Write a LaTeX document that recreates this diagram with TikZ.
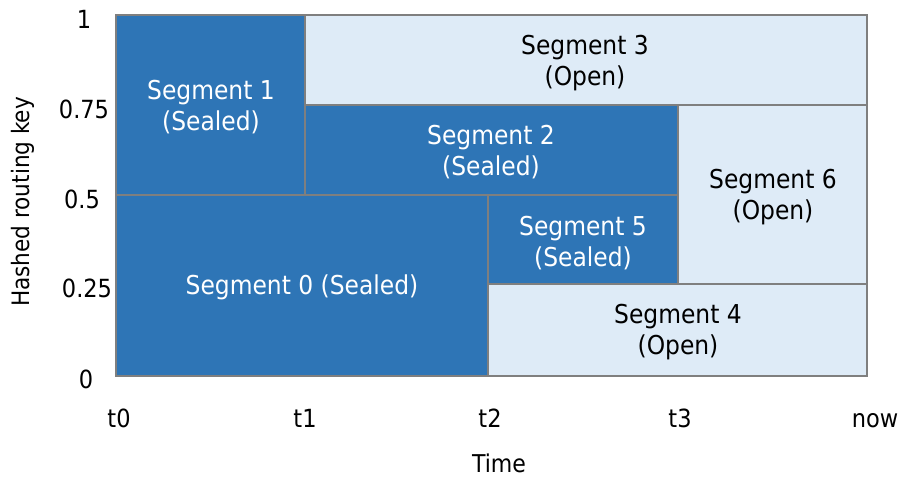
\documentclass[tikz,border=0pt]{standalone}
\usepackage{fontspec}
\setmainfont{DejaVu Sans Condensed}
\definecolor{dark}{HTML}{2E75B6}
\definecolor{light}{HTML}{DEEBF7}
\definecolor{edge}{HTML}{7F7F7F}
\begin{document}
\begin{tikzpicture}[x=1pt,y=-1pt,
  seg/.style={draw=edge,line width=2pt},
  sealed/.style={seg,fill=dark},
  open/.style={seg,fill=light},
  wlab/.style={text=white,align=center,font=\fontsize{26}{31}\selectfont,inner sep=0pt},
  blab/.style={text=black,align=center,font=\fontsize{26}{31}\selectfont,inner sep=0pt},
  axlab/.style={text=black,font=\fontsize{25}{28}\selectfont,inner sep=0pt},
  tlab/.style={axlab,anchor=base}]
\useasboundingbox (0,0) rectangle (901,479);
\fill[white] (0,0) rectangle (901,479);
% segments
\draw[sealed] (116,15) rectangle (305,195);
\draw[open] (305,15) rectangle (867,105);
\draw[sealed] (305,105) rectangle (678,195);
\draw[open] (678,105) rectangle (867,284);
\draw[sealed] (116,195) rectangle (488,376);
\draw[sealed] (488,195) rectangle (678,284);
\draw[open] (488,284) rectangle (867,376);
% labels
\node[wlab] (s1) at (211,107) {Segment 1\\(Sealed)};
\node[blab] (s3) at (585,63) {Segment 3\\(Open)};
\node[wlab] (s2) at (491,152) {Segment 2\\(Sealed)};
\node[blab] (s6) at (773,197) {Segment 6\\(Open)};
\node[wlab] (s0) at (302,287) {Segment 0 (Sealed)};
\node[wlab] (s5) at (583,243) {Segment 5\\(Sealed)};
\node[blab] (s4) at (678,332) {Segment 4\\(Open)};
% y axis
\node[axlab] (y1) at (84,19) {1};
\node[axlab] (y075) at (84,109) {0.75};
\node[axlab] (y05) at (82,199) {0.5};
\node[axlab] (y025) at (87,288) {0.25};
\node[axlab] (y0) at (86,379) {0};
% x axis
\node[tlab] (t0) at (119,427) {t0};
\node[tlab] (t1) at (305,427) {t1};
\node[tlab] (t2) at (490,427) {t2};
\node[tlab] (t3) at (680,427) {t3};
\node[tlab] (now) at (875,427) {now};
\node[tlab,font=\fontsize{24.5}{28}\selectfont] (time) at (499,472) {Time};
\node[axlab,rotate=90,font=\fontsize{24}{28}\selectfont] (key) at (23,202) {Hashed routing key};
\end{tikzpicture}
\end{document}
